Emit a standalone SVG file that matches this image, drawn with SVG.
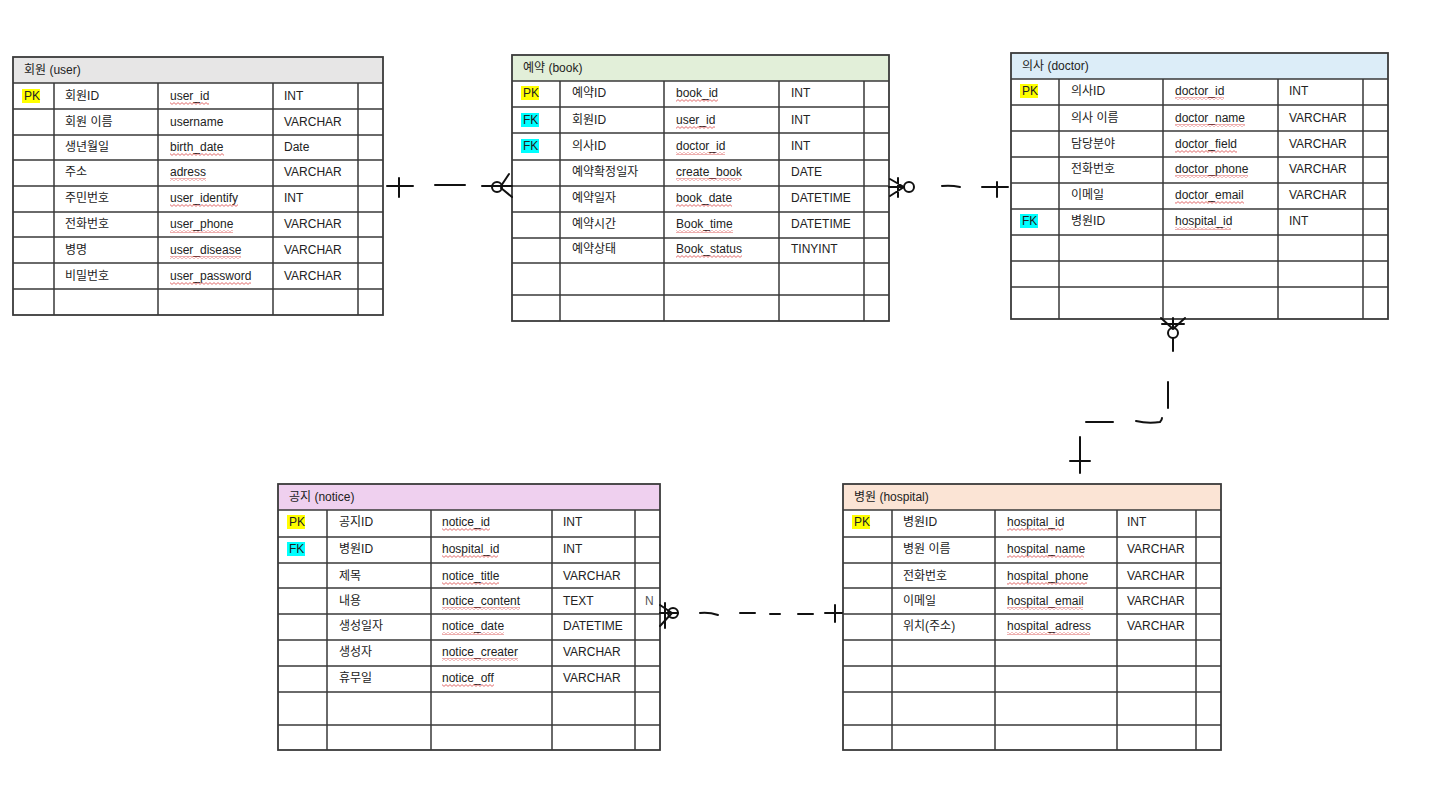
<svg xmlns="http://www.w3.org/2000/svg" width="1440" height="810" viewBox="0 0 1440 810">
<defs>
<pattern id="sq" width="4" height="3" patternUnits="userSpaceOnUse">
<path d="M0,2.4 L2,0.6 L4,2.4" fill="none" stroke="#d94848" stroke-width="0.8"/>
</pattern>
<style>
.g{stroke:#3a3a3a;stroke-width:1.5;fill:none}
.o{stroke:#3a3a3a;stroke-width:1.8;fill:none}
text{font-family:"Liberation Sans","Noto Sans CJK KR",sans-serif;font-size:12px;fill:#222}
.pk{fill:#ffff00}
.fk{fill:#00ffff}
.sq{fill:url(#sq)}
.c{stroke:#111;stroke-width:2;fill:none;stroke-linecap:round}
</style>
</defs>
<rect width="1440" height="810" fill="#ffffff"/>

<g id="user">
<rect x="13" y="57" width="370" height="26" fill="#e7e6e6"/>
<rect x="13" y="57" width="370" height="258" class="o"/>
<path class="g" d="M13 83H383M13 109H383M13 135H383M13 160H383M13 186H383M13 212H383M13 237H383M13 263H383M13 289H383M54 83V315M158 83V315M273 83V315M358 83V315"/>
<text x="24" y="74">회원 (user)</text>
<rect class="pk" x="22" y="89" width="18" height="14"/>
<text x="24" y="100">PK</text>
<text x="65" y="100">회원ID</text><text x="170" y="100">user_id</text><text x="284" y="100">INT</text>
<text x="65" y="126">회원 이름</text><text x="170" y="126">username</text><text x="284" y="126">VARCHAR</text>
<text x="65" y="151">생년월일</text><text x="170" y="151">birth_date</text><text x="284" y="151">Date</text>
<text x="65" y="176">주소</text><text x="170" y="176">adress</text><text x="284" y="176">VARCHAR</text>
<text x="65" y="202">주민번호</text><text x="170" y="202">user_identify</text><text x="284" y="202">INT</text>
<text x="65" y="228">전화번호</text><text x="170" y="228">user_phone</text><text x="284" y="228">VARCHAR</text>
<text x="65" y="254">병명</text><text x="170" y="254">user_disease</text><text x="284" y="254">VARCHAR</text>
<text x="65" y="280">비밀번호</text><text x="170" y="280">user_password</text><text x="284" y="280">VARCHAR</text>
<rect class="sq" x="170" y="102" width="39" height="3"/>
<rect class="sq" x="170" y="153" width="54" height="3"/>
<rect class="sq" x="170" y="178" width="36" height="3"/>
<rect class="sq" x="170" y="204" width="68" height="3"/>
<rect class="sq" x="170" y="230" width="63" height="3"/>
<rect class="sq" x="170" y="256" width="71" height="3"/>
<rect class="sq" x="170" y="282" width="81" height="3"/>
</g>

<g id="book">
<rect x="512" y="55" width="377" height="26" fill="#e2efd9"/>
<rect x="512" y="55" width="377" height="266" class="o"/>
<path class="g" d="M512 81H889M512 107H889M512 133H889M512 160H889M512 186H889M512 212H889M512 238H889M512 263H889M512 295H889M560 81V321M664 81V321M779 81V321M864 81V321"/>
<text x="523" y="72">예약 (book)</text>
<rect class="pk" x="521" y="86" width="18" height="14"/>
<text x="523" y="97">PK</text>
<rect class="fk" x="521" y="113" width="18" height="14"/>
<text x="523" y="124">FK</text>
<rect class="fk" x="521" y="139" width="18" height="14"/>
<text x="523" y="150">FK</text>
<text x="572" y="97">예약ID</text><text x="676" y="97">book_id</text><text x="791" y="97">INT</text>
<text x="572" y="124">회원ID</text><text x="676" y="124">user_id</text><text x="791" y="124">INT</text>
<text x="572" y="150">의사ID</text><text x="676" y="150">doctor_id</text><text x="791" y="150">INT</text>
<text x="572" y="176">예약확정일자</text><text x="676" y="176">create_book</text><text x="791" y="176">DATE</text>
<text x="572" y="202">예약일자</text><text x="676" y="202">book_date</text><text x="791" y="202">DATETIME</text>
<text x="572" y="228">예약시간</text><text x="676" y="228">Book_time</text><text x="791" y="228">DATETIME</text>
<text x="572" y="253">예약상태</text><text x="676" y="253">Book_status</text><text x="791" y="253">TINYINT</text>
<rect class="sq" x="676" y="99" width="42" height="3"/>
<rect class="sq" x="676" y="126" width="39" height="3"/>
<rect class="sq" x="676" y="152" width="49" height="3"/>
<rect class="sq" x="676" y="178" width="65" height="3"/>
<rect class="sq" x="676" y="204" width="56" height="3"/>
<rect class="sq" x="676" y="230" width="57" height="3"/>
<rect class="sq" x="676" y="255" width="66" height="3"/>
</g>

<g id="doctor">
<rect x="1011" y="53" width="377" height="26" fill="#dcedf8"/>
<rect x="1011" y="53" width="377" height="266" class="o"/>
<path class="g" d="M1011 79H1388M1011 105H1388M1011 131H1388M1011 157H1388M1011 183H1388M1011 209H1388M1011 235H1388M1011 261H1388M1011 287H1388M1059 79V319M1163 79V319M1278 79V319M1363 79V319"/>
<text x="1022" y="70">의사 (doctor)</text>
<rect class="pk" x="1020" y="84" width="18" height="14"/>
<text x="1022" y="95">PK</text>
<rect class="fk" x="1020" y="214" width="18" height="14"/>
<text x="1022" y="225">FK</text>
<text x="1071" y="95">의사ID</text><text x="1175" y="95">doctor_id</text><text x="1289" y="95">INT</text>
<text x="1071" y="122">의사 이름</text><text x="1175" y="122">doctor_name</text><text x="1289" y="122">VARCHAR</text>
<text x="1071" y="148">담당분야</text><text x="1175" y="148">doctor_field</text><text x="1289" y="148">VARCHAR</text>
<text x="1071" y="173">전화번호</text><text x="1175" y="173">doctor_phone</text><text x="1289" y="173">VARCHAR</text>
<text x="1071" y="199">이메일</text><text x="1175" y="199">doctor_email</text><text x="1289" y="199">VARCHAR</text>
<text x="1071" y="225">병원ID</text><text x="1175" y="225">hospital_id</text><text x="1289" y="225">INT</text>
<rect class="sq" x="1175" y="97" width="49" height="3"/>
<rect class="sq" x="1175" y="124" width="70" height="3"/>
<rect class="sq" x="1175" y="150" width="62" height="3"/>
<rect class="sq" x="1175" y="175" width="73" height="3"/>
<rect class="sq" x="1175" y="201" width="69" height="3"/>
<rect class="sq" x="1175" y="227" width="56" height="3"/>
</g>

<g id="notice">
<rect x="278" y="484" width="382" height="26" fill="#efd0ef"/>
<rect x="278" y="484" width="382" height="266" class="o"/>
<path class="g" d="M278 510H660M278 537H660M278 563H660M278 588H660M278 614H660M278 640H660M278 666H660M278 692H660M278 725H660M327 510V750M431 510V750M552 510V750M635 510V750"/>
<text x="289" y="501">공지 (notice)</text>
<rect class="pk" x="287" y="515" width="18" height="14"/>
<text x="289" y="526">PK</text>
<rect class="fk" x="287" y="542" width="18" height="14"/>
<text x="289" y="553">FK</text>
<text x="339" y="526">공지ID</text><text x="442" y="526">notice_id</text><text x="563" y="526">INT</text>
<text x="339" y="553">병원ID</text><text x="442" y="553">hospital_id</text><text x="563" y="553">INT</text>
<text x="339" y="580">제목</text><text x="442" y="580">notice_title</text><text x="563" y="580">VARCHAR</text>
<text x="339" y="605">내용</text><text x="442" y="605">notice_content</text><text x="563" y="605">TEXT</text>
<text x="645" y="605" style="fill:#555">N</text>
<text x="339" y="630">생성일자</text><text x="442" y="630">notice_date</text><text x="563" y="630">DATETIME</text>
<text x="339" y="656">생성자</text><text x="442" y="656">notice_creater</text><text x="563" y="656">VARCHAR</text>
<text x="339" y="682">휴무일</text><text x="442" y="682">notice_off</text><text x="563" y="682">VARCHAR</text>
<rect class="sq" x="442" y="528" width="48" height="3"/>
<rect class="sq" x="442" y="555" width="56" height="3"/>
<rect class="sq" x="442" y="582" width="57" height="3"/>
<rect class="sq" x="442" y="607" width="78" height="3"/>
<rect class="sq" x="442" y="632" width="62" height="3"/>
<rect class="sq" x="442" y="658" width="76" height="3"/>
<rect class="sq" x="442" y="684" width="52" height="3"/>
</g>

<g id="hospital">
<rect x="843" y="484" width="378" height="26" fill="#fbe4d5"/>
<rect x="843" y="484" width="378" height="266" class="o"/>
<path class="g" d="M843 510H1221M843 537H1221M843 563H1221M843 588H1221M843 614H1221M843 640H1221M843 666H1221M843 692H1221M843 725H1221M892 510V750M995 510V750M1117 510V750M1196 510V750"/>
<text x="854" y="501">병원 (hospital)</text>
<rect class="pk" x="852" y="515" width="18" height="14"/>
<text x="854" y="526">PK</text>
<text x="903" y="526">병원ID</text><text x="1007" y="526">hospital_id</text><text x="1127" y="526">INT</text>
<text x="903" y="553">병원 이름</text><text x="1007" y="553">hospital_name</text><text x="1127" y="553">VARCHAR</text>
<text x="903" y="580">전화번호</text><text x="1007" y="580">hospital_phone</text><text x="1127" y="580">VARCHAR</text>
<text x="903" y="605">이메일</text><text x="1007" y="605">hospital_email</text><text x="1127" y="605">VARCHAR</text>
<text x="903" y="630">위치(주소)</text><text x="1007" y="630">hospital_adress</text><text x="1127" y="630">VARCHAR</text>
<rect class="sq" x="1007" y="528" width="56" height="3"/>
<rect class="sq" x="1007" y="555" width="77" height="3"/>
<rect class="sq" x="1007" y="582" width="80" height="3"/>
<rect class="sq" x="1007" y="607" width="76" height="3"/>
<rect class="sq" x="1007" y="632" width="83" height="3"/>
</g>

<g id="connectors">
<!-- user - book -->
<path class="c" d="M387 186H413M399 178V197"/>
<path class="c" d="M435 185H465"/>
<path class="c" d="M482 186H512"/>
<circle class="c" cx="497" cy="187" r="5"/>
<path class="c" d="M501 186L509 174M501 188L512 197"/>
<!-- book - doctor -->
<path class="c" d="M889 187H904M890 179L904 187M890 196L904 187M898 178V197"/>
<circle class="c" cx="909" cy="187" r="5"/>
<path class="c" d="M942 186Q951 185 960 187"/>
<path class="c" d="M982 187H1008M997 182V197"/>
<!-- doctor - hospital -->
<path class="c" d="M1162 324H1184M1161 318L1173 329M1185 318L1173 329M1173 318V328"/>
<circle class="c" cx="1173" cy="333" r="5"/>
<path class="c" d="M1173 338V351"/>
<path class="c" d="M1168 382V408"/>
<path class="c" d="M1136 421Q1148 424 1160 422Q1162 420 1162 418"/>
<path class="c" d="M1086 422H1113"/>
<path class="c" d="M1080 437V473M1070 461H1090"/>
<!-- notice - hospital -->
<path class="c" d="M660 613H678M660 605L672 613M660 626L672 613M665 603V628"/>
<circle class="c" cx="673" cy="613" r="5"/>
<path class="c" d="M700 613Q709 612 718 615"/>
<path class="c" d="M740 613H755"/>
<path class="c" d="M770 614H780"/>
<path class="c" d="M798 614H813"/>
<path class="c" d="M825 613H842M835 605V622"/>
</g>
</svg>
